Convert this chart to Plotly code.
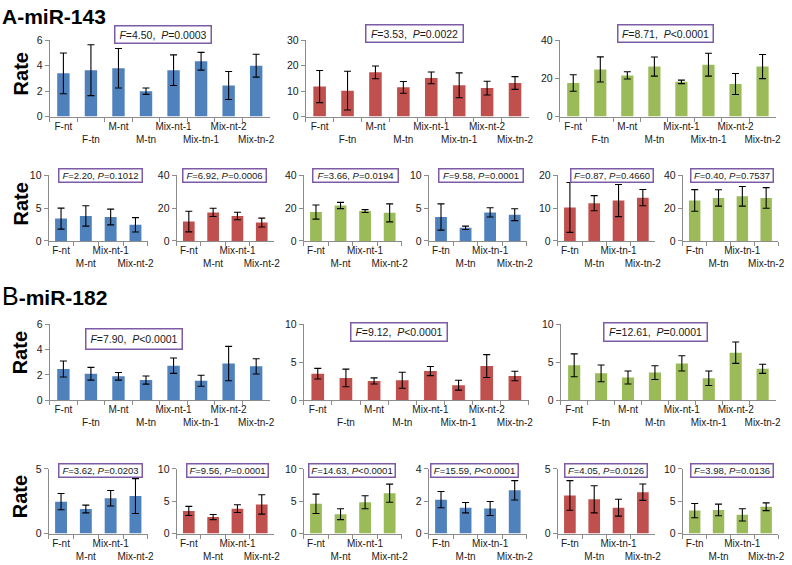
import plotly.graph_objects as go

W, H = 792, 565

# ---------------- data ----------------
cats8 = ["F-nt", "F-tn", "M-nt", "M-tn", "Mix-nt-1", "Mix-tn-1", "Mix-nt-2", "Mix-tn-2"]

# miR-143
m143_blue_mean = [3.4, 3.65, 3.8, 2.0, 3.65, 4.35, 2.45, 4.0]
m143_blue_sd = [1.6, 2.0, 1.55, 0.25, 1.2, 0.7, 1.1, 0.9]
m143_red_mean = [11.8, 10.2, 17.4, 11.5, 15.2, 12.3, 11.2, 13.2]
m143_red_sd = [6.3, 7.6, 2.5, 2.3, 2.3, 4.9, 2.7, 2.5]
m143_green_mean = [17.6, 24.7, 21.6, 26.2, 18.2, 27.2, 17.1, 26.2]
m143_green_sd = [4.3, 6.6, 1.9, 5.0, 0.9, 6.0, 5.5, 6.3]

# miR-182
m182_blue_mean = [2.47, 2.1, 1.9, 1.6, 2.73, 1.55, 2.9, 2.68]
m182_blue_sd = [0.63, 0.5, 0.3, 0.32, 0.6, 0.43, 1.35, 0.6]
m182_red_mean = [3.5, 2.95, 2.55, 2.65, 3.85, 2.0, 4.5, 3.2]
m182_red_sd = [0.7, 1.15, 0.4, 1.05, 0.6, 0.65, 1.5, 0.63]
m182_green_mean = [4.6, 3.55, 3.0, 3.65, 4.85, 2.9, 6.25, 4.15]
m182_green_sd = [1.5, 1.1, 0.85, 0.9, 1.0, 0.95, 1.4, 0.6]

# statistics (F value, P text)
a_top_F = ["4.50", "3.53", "8.71"]
a_top_P = ["=0.0003", "=0.0022", "<0.0001"]
a_bot_F = ["2.20", "6.92", "3.66", "9.58", "0.87", "0.40"]
a_bot_P = ["=0.1012", "=0.0006", "=0.0194", "=0.0001", "=0.4660", "=0.7537"]
b_top_F = ["7.90", "9.12", "12.61"]
b_top_P = ["<0.0001", "<0.0001", "=0.0001"]
b_bot_F = ["3.62", "9.56", "14.63", "15.59", "4.05", "3.98"]
b_bot_P = ["=0.0203", "=0.0001", "<0.0001", "<0.0001", "=0.0126", "=0.0136"]

# y axis maxima / tick steps
a_top_ymax = [6, 30, 40]; a_top_dt = [2, 10, 20]
a_bot_ymax = [10, 40, 40, 10, 20, 40]; a_bot_dt = [5, 20, 20, 5, 10, 20]
b_top_ymax = [6, 10, 10]; b_top_dt = [2, 5, 5]
b_bot_ymax = [5, 10, 10, 4, 5, 10]; b_bot_dt = [5, 5, 5, 2, 5, 5]

BLUE, RED, GREEN = "#4F81BD", "#C0504D", "#9BBB59"
AXC = "#8C8C8C"
FONT = "Liberation Sans, Arial, sans-serif"

fig = go.Figure()
annotations = []
axis_n = [0]


def px_x(x):
    return x / W


def px_y(y):
    return 1 - y / H


def add_panel(x0, x1, ytop, ybot, cats, means, sds, color, ymax, dt, F, P, box, bw, fsize, sep):
    axis_n[0] += 1
    n = axis_n[0]
    xa = "x" if n == 1 else f"x{n}"
    ya = "y" if n == 1 else f"y{n}"
    fig.add_trace(go.Bar(
        x=cats, y=means, xaxis=xa, yaxis=ya, marker_color=color, width=bw,
        marker_line_width=0, showlegend=False,
        error_y=dict(type="data", array=sds, color="black", thickness=1.1, width=3.5),
    ))
    ticktext = [c if i % 2 == 0 else "<br>" + c for i, c in enumerate(cats)]
    key = "" if n == 1 else str(n)
    fig.layout["xaxis" + key] = dict(
        domain=[px_x(x0), px_x(x1)], anchor=ya, type="category",
        range=[-0.5, len(cats) - 0.5], showline=True, linecolor=AXC, linewidth=1,
        ticks="outside", tickson="boundaries", tickcolor=AXC, ticklen=4,
        tickvals=cats, ticktext=ticktext, tickangle=0,
        tickfont=dict(size=10, color="#1a1a1a", family=FONT), showgrid=False, zeroline=False,
    )
    fig.layout["yaxis" + key] = dict(
        domain=[px_y(ybot), px_y(ytop)], anchor=xa, range=[0, ymax], dtick=dt,
        showline=True, linecolor=AXC, linewidth=1, ticks="outside", tickcolor=AXC, ticklen=4,
        tickfont=dict(size=10.5, color="#1a1a1a", family=FONT), showgrid=False, zeroline=False,
    )
    bx0, by0, bx1, by1 = box
    annotations.append(dict(
        xref="paper", yref="paper", x=px_x((bx0 + bx1) / 2), y=px_y((by0 + by1) / 2),
        xanchor="center", yanchor="middle", showarrow=False,
        text=f"<i>F</i>={F},{sep}<i>P</i>{P.replace('<', '&lt;')}",
        font=dict(size=fsize, color="#1a1a1a", family=FONT),
        bordercolor="#7D5BA6", borderwidth=1.5, borderpad=0, bgcolor="white",
        width=bx1 - bx0 - 3, height=by1 - by0 - 3, align="center",
    ))


nt_idx = [0, 2, 4, 6]
tn_idx = [1, 3, 5, 7]


def sub(arr, idx):
    return [arr[i] for i in idx]


# ---------- Row 1 (A, full) ----------
top_cols = [(50, 272), (308, 533), (564, 782)]
a_top_boxes = [(115, 20, 213, 39), (368, 19, 467, 38), (622, 19, 719, 38)]
a_means = [m143_blue_mean, m143_red_mean, m143_green_mean]
a_sds = [m143_blue_sd, m143_red_sd, m143_green_sd]
cols3 = [BLUE, RED, GREEN]
for i in range(3):
    add_panel(top_cols[i][0], top_cols[i][1], 35, 113, cats8, a_means[i], a_sds[i], cols3[i],
              a_top_ymax[i], a_top_dt[i], a_top_F[i], a_top_P[i], a_top_boxes[i], 0.45, 10.5, "&nbsp; ")

# ---------- Row 2 (A, subsets) ----------
bot_cols = [(49, 149), (178, 276), (306, 405), (432, 531), (562, 660), (688, 784)]
a_bot_boxes = [(59, 166, 144, 181), (184, 166, 269, 181), (315, 166, 402, 181),
               (442, 166, 528, 181), (575, 166, 659, 181), (696, 166, 780, 181)]
for j in range(6):
    c = j % 3
    idx = nt_idx if j < 3 else tn_idx
    add_panel(bot_cols[j][0], bot_cols[j][1], 173, 240, sub(cats8, idx), sub(a_means[c], idx),
              sub(a_sds[c], idx), cols3[c], a_bot_ymax[j], a_bot_dt[j], a_bot_F[j], a_bot_P[j],
              a_bot_boxes[j], 0.48, 9.5, " ")

# ---------- Row 3 (B, full) ----------
top_cols_b = [(50, 272), (306, 533), (565, 782)]
b_top_boxes = [(86, 329, 184, 351), (353, 323, 451, 343), (608, 323, 713, 343)]
b_means = [m182_blue_mean, m182_red_mean, m182_green_mean]
b_sds = [m182_blue_sd, m182_red_sd, m182_green_sd]
for i in range(3):
    add_panel(top_cols_b[i][0], top_cols_b[i][1], 325, 403, cats8, b_means[i], b_sds[i], cols3[i],
              b_top_ymax[i], b_top_dt[i], b_top_F[i], b_top_P[i], b_top_boxes[i], 0.45, 10.5, "&nbsp; ")

# ---------- Row 4 (B, subsets) ----------
b_bot_boxes = [(59, 467, 144, 482), (188, 467, 271, 482), (311, 467, 399, 482),
               (434, 467, 523, 482), (569, 467, 653, 482), (696, 467, 780, 482)]
for j in range(6):
    c = j % 3
    idx = nt_idx if j < 3 else tn_idx
    add_panel(bot_cols[j][0], bot_cols[j][1], 473, 539, sub(cats8, idx), sub(b_means[c], idx),
              sub(b_sds[c], idx), cols3[c], b_bot_ymax[j], b_bot_dt[j], b_bot_F[j], b_bot_P[j],
              b_bot_boxes[j], 0.48, 9.5, " ")

# ---------- labels ----------
for yc in [69, 202, 354, 501]:
    annotations.append(dict(xref="paper", yref="paper", x=px_x(21), y=px_y(yc), text="<b>Rate</b>",
                            textangle=-90, showarrow=False, xanchor="center", yanchor="middle",
                            font=dict(size=20, color="black", family=FONT)))
annotations.append(dict(xref="paper", yref="paper", x=px_x(0), y=px_y(11), xanchor="left", yanchor="middle",
                        text="<b>A-miR-143</b>", showarrow=False,
                        font=dict(size=21, color="black", family=FONT)))
annotations.append(dict(xref="paper", yref="paper", x=px_x(0), y=px_y(296), xanchor="left", yanchor="middle",
                        text="<span style='font-size:25px'>B</span><b>-miR-182</b>", showarrow=False,
                        font=dict(size=21, color="black", family=FONT)))

fig.update_layout(
    width=W, height=H, margin=dict(l=0, r=0, t=0, b=0),
    paper_bgcolor="white", plot_bgcolor="white",
    annotations=annotations, bargap=0.5, font=dict(family=FONT),
)

fig.write_html("out.html", config={"displayModeBar": False},
               post_script="document.body.style.margin='0px';")
